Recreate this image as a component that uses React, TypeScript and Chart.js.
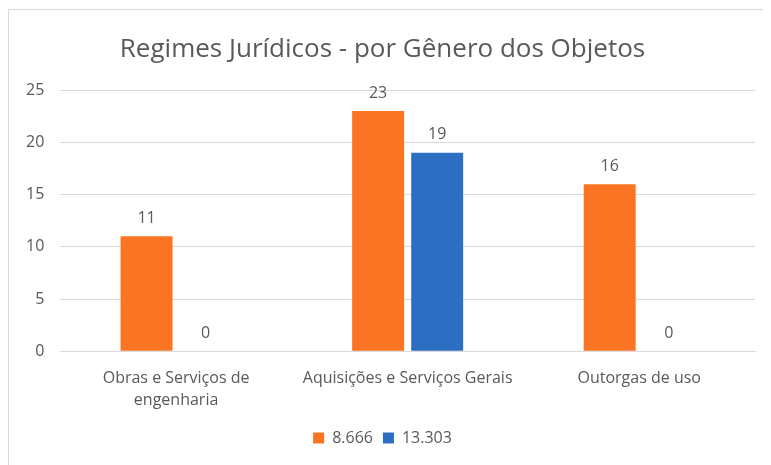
import React, { useEffect, useRef } from "react";
import { Chart, registerables } from "chart.js";

Chart.register(...registerables);

const categories: (string | string[])[] = [
  ["Obras e Serviços de", "engenharia"],
  "Aquisições e Serviços Gerais",
  "Outorgas de uso",
];
const seriesNames = ["8.666", "13.303"];
const series8666 = [11, 23, 16];
const series13303 = [0, 19, 0];
const chartTitle = "Regimes Jurídicos - por Gênero dos Objetos";

const FONT = "'Open Sans', 'Noto Sans', sans-serif";
const TEXT = "#595959";

const dataLabels = {
  id: "dataLabels",
  afterDatasetsDraw(chart: any) {
    const ctx = chart.ctx;
    ctx.save();
    ctx.font = `16px ${FONT}`;
    ctx.fillStyle = TEXT;
    ctx.textAlign = "center";
    ctx.textBaseline = "bottom";
    chart.data.datasets.forEach((ds: any, i: number) => {
      const meta = chart.getDatasetMeta(i);
      meta.data.forEach((el: any, j: number) => {
        ctx.fillText(String(ds.data[j]), el.x, el.y - 10);
      });
    });
    ctx.restore();
  },
};

export default function App() {
  const ref = useRef<HTMLCanvasElement>(null);
  useEffect(() => {
    if (!ref.current) return;
    const chart = new Chart(ref.current, {
      type: "bar",
      data: {
        labels: categories,
        datasets: [
          {
            label: seriesNames[0],
            data: series8666,
            backgroundColor: "#FA7424",
            categoryPercentage: 0.51,
            barPercentage: 0.88,
          },
          {
            label: seriesNames[1],
            data: series13303,
            backgroundColor: "#2C6FC2",
            categoryPercentage: 0.51,
            barPercentage: 0.88,
          },
        ],
      },
      options: {
        animation: false,
        responsive: false,
        maintainAspectRatio: false,
        layout: { padding: { left: 1, right: 16, top: 24, bottom: 9 } },
        plugins: {
          title: {
            display: true,
            text: chartTitle,
            color: TEXT,
            font: { family: FONT, size: 26, weight: "normal" },
            padding: { top: 0, bottom: 25 },
          },
          legend: {
            position: "bottom",
            labels: {
              color: TEXT,
              font: { family: FONT, size: 16 },
              boxWidth: 11,
              boxHeight: 11,
              padding: 10,
            },
          },
          tooltip: { enabled: false },
        },
        scales: {
          x: {
            grid: { display: false },
            border: { color: "#d9d9d9" },
            ticks: {
              color: TEXT,
              font: { family: FONT, size: 16, lineHeight: 1.4 },
              maxRotation: 0,
              padding: 8,
            },
          },
          y: {
            min: 0,
            max: 25,
            ticks: {
              stepSize: 5,
              color: TEXT,
              font: { family: FONT, size: 16 },
              padding: 16,
            },
            grid: { color: "#d9d9d9", drawTicks: false },
            border: { display: false },
          },
        },
      },
      plugins: [dataLabels],
    });
    return () => chart.destroy();
  }, []);
  return (
    <div
      style={{
        width: 762,
        height: 455,
        border: "1px solid #d9d9d9",
        marginTop: 1,
        background: "#fff",
      }}
    >
      <canvas ref={ref} width={762} height={455} />
    </div>
  );
}
